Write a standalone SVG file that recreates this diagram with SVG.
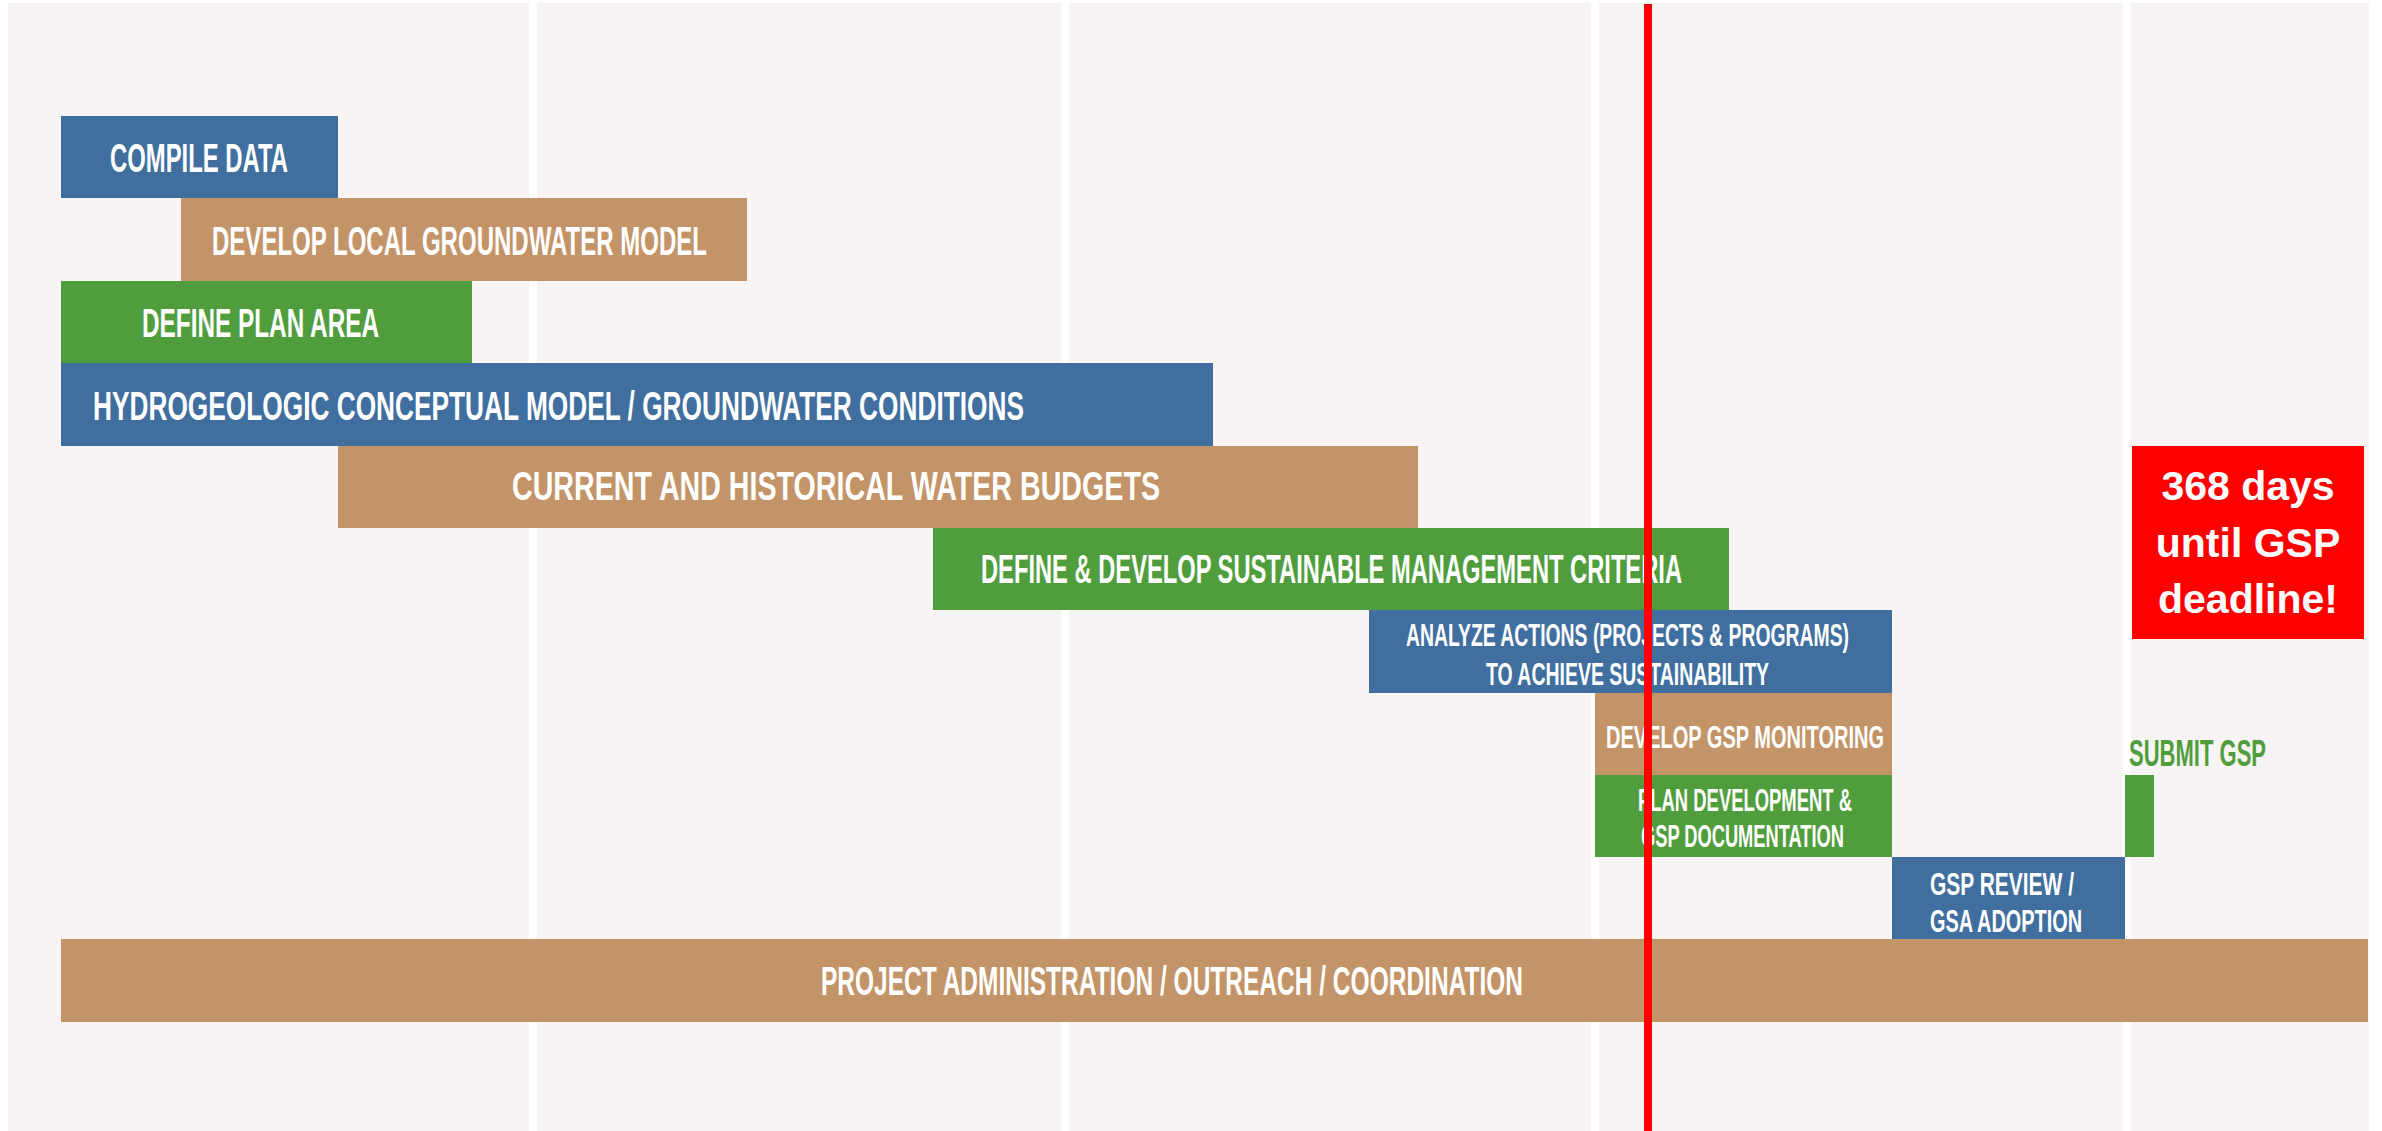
<svg xmlns="http://www.w3.org/2000/svg" width="2382" height="1131" viewBox="0 0 2382 1131">
  <style>
    .blue { fill: #406F9F; }
    .tan { fill: #C39468; }
    .green { fill: #509D3D; }
    .lbl { font-family: "Liberation Sans", Arial, sans-serif; fill: #FFFFFF; font-size: 40px; font-weight: bold; }
    .sm { font-size: 32px; }
    .deadline { font-family: "Liberation Sans", Arial, sans-serif; fill: #FFFFFF; font-size: 41px; font-weight: bold; text-anchor: middle; }
  </style>
  <rect x="0" y="0" width="2382" height="1131" fill="#FFFFFF"/>
  <g id="background">
    <rect x="8" y="3" width="2361" height="1128" fill="#F7F4F3"/>
    <rect x="529" y="0" width="8" height="1131" fill="#FFFFFF"/>
    <rect x="1061" y="0" width="8" height="1131" fill="#FFFFFF"/>
    <rect x="1591" y="0" width="8" height="1131" fill="#FFFFFF"/>
    <rect x="2123" y="0" width="8" height="1131" fill="#FFFFFF"/>
  </g>

  <g id="compile-data">
    <rect class="blue" x="61" y="116" width="277" height="82"/>
    <text class="lbl" x="110" y="172" textLength="178" lengthAdjust="spacingAndGlyphs">COMPILE DATA</text>
  </g>
  <g id="develop-local-groundwater-model">
    <rect class="tan" x="181" y="198" width="566" height="83"/>
    <text class="lbl" x="212" y="255" textLength="495" lengthAdjust="spacingAndGlyphs">DEVELOP LOCAL GROUNDWATER MODEL</text>
  </g>
  <g id="define-plan-area">
    <rect class="green" x="61" y="281" width="411" height="82"/>
    <text class="lbl" x="142" y="337" textLength="237" lengthAdjust="spacingAndGlyphs">DEFINE PLAN AREA</text>
  </g>
  <g id="hydrogeologic-model">
    <rect class="blue" x="61" y="363" width="1152" height="83"/>
    <text class="lbl" x="93" y="420" textLength="931" lengthAdjust="spacingAndGlyphs">HYDROGEOLOGIC CONCEPTUAL MODEL / GROUNDWATER CONDITIONS</text>
  </g>
  <g id="water-budgets">
    <rect class="tan" x="338" y="446" width="1080" height="82"/>
    <text class="lbl" x="512" y="500" textLength="648" lengthAdjust="spacingAndGlyphs">CURRENT AND HISTORICAL WATER BUDGETS</text>
  </g>
  <g id="sustainable-management-criteria">
    <rect class="green" x="933" y="528" width="796" height="82"/>
    <text class="lbl" x="981" y="583" textLength="701" lengthAdjust="spacingAndGlyphs">DEFINE &amp; DEVELOP SUSTAINABLE MANAGEMENT CRITERIA</text>
  </g>
  <g id="analyze-actions">
    <rect class="blue" x="1369" y="610" width="523" height="83"/>
    <text class="lbl sm" x="1406" y="646" textLength="443" lengthAdjust="spacingAndGlyphs">ANALYZE ACTIONS (PROJECTS &amp; PROGRAMS)</text>
    <text class="lbl sm" x="1486" y="685" textLength="283" lengthAdjust="spacingAndGlyphs">TO ACHIEVE SUSTAINABILITY</text>
  </g>
  <g id="gsp-monitoring">
    <rect class="tan" x="1595" y="693" width="297" height="82"/>
    <text class="lbl sm" x="1606" y="748" textLength="278" lengthAdjust="spacingAndGlyphs">DEVELOP GSP MONITORING</text>
  </g>
  <g id="plan-development">
    <rect class="green" x="1595" y="775" width="297" height="82"/>
    <text class="lbl sm" x="1638" y="811" textLength="214" lengthAdjust="spacingAndGlyphs">PLAN DEVELOPMENT &amp;</text>
    <text class="lbl sm" x="1641" y="847" textLength="203" lengthAdjust="spacingAndGlyphs">GSP DOCUMENTATION</text>
  </g>
  <g id="gsp-review">
    <rect class="blue" x="1892" y="857" width="233" height="82"/>
    <text class="lbl sm" x="1930" y="895" textLength="144" lengthAdjust="spacingAndGlyphs">GSP REVIEW /</text>
    <text class="lbl sm" x="1930" y="932" textLength="152" lengthAdjust="spacingAndGlyphs">GSA ADOPTION</text>
  </g>
  <g id="submit-gsp">
    <rect class="green" x="2125" y="775" width="29" height="82"/>
    <text class="lbl" x="2129" y="766" textLength="137" lengthAdjust="spacingAndGlyphs" style="fill:#509D3D;font-size:36px">SUBMIT GSP</text>
  </g>
  <g id="project-administration">
    <rect class="tan" x="61" y="939" width="2307" height="83"/>
    <text class="lbl" x="821" y="995" textLength="702" lengthAdjust="spacingAndGlyphs">PROJECT ADMINISTRATION / OUTREACH / COORDINATION</text>
  </g>
  <g id="deadline-callout">
    <rect x="2132" y="446" width="232" height="193" fill="#FF0000"/>
    <text class="deadline" x="2248" y="500">368 days</text>
    <text class="deadline" x="2248" y="557">until GSP</text>
    <text class="deadline" x="2248" y="613">deadline!</text>
  </g>
  <g id="connectors">
    <rect id="today-line" x="1644" y="4" width="8" height="1127" fill="#FF0000"/>
  </g>
</svg>
